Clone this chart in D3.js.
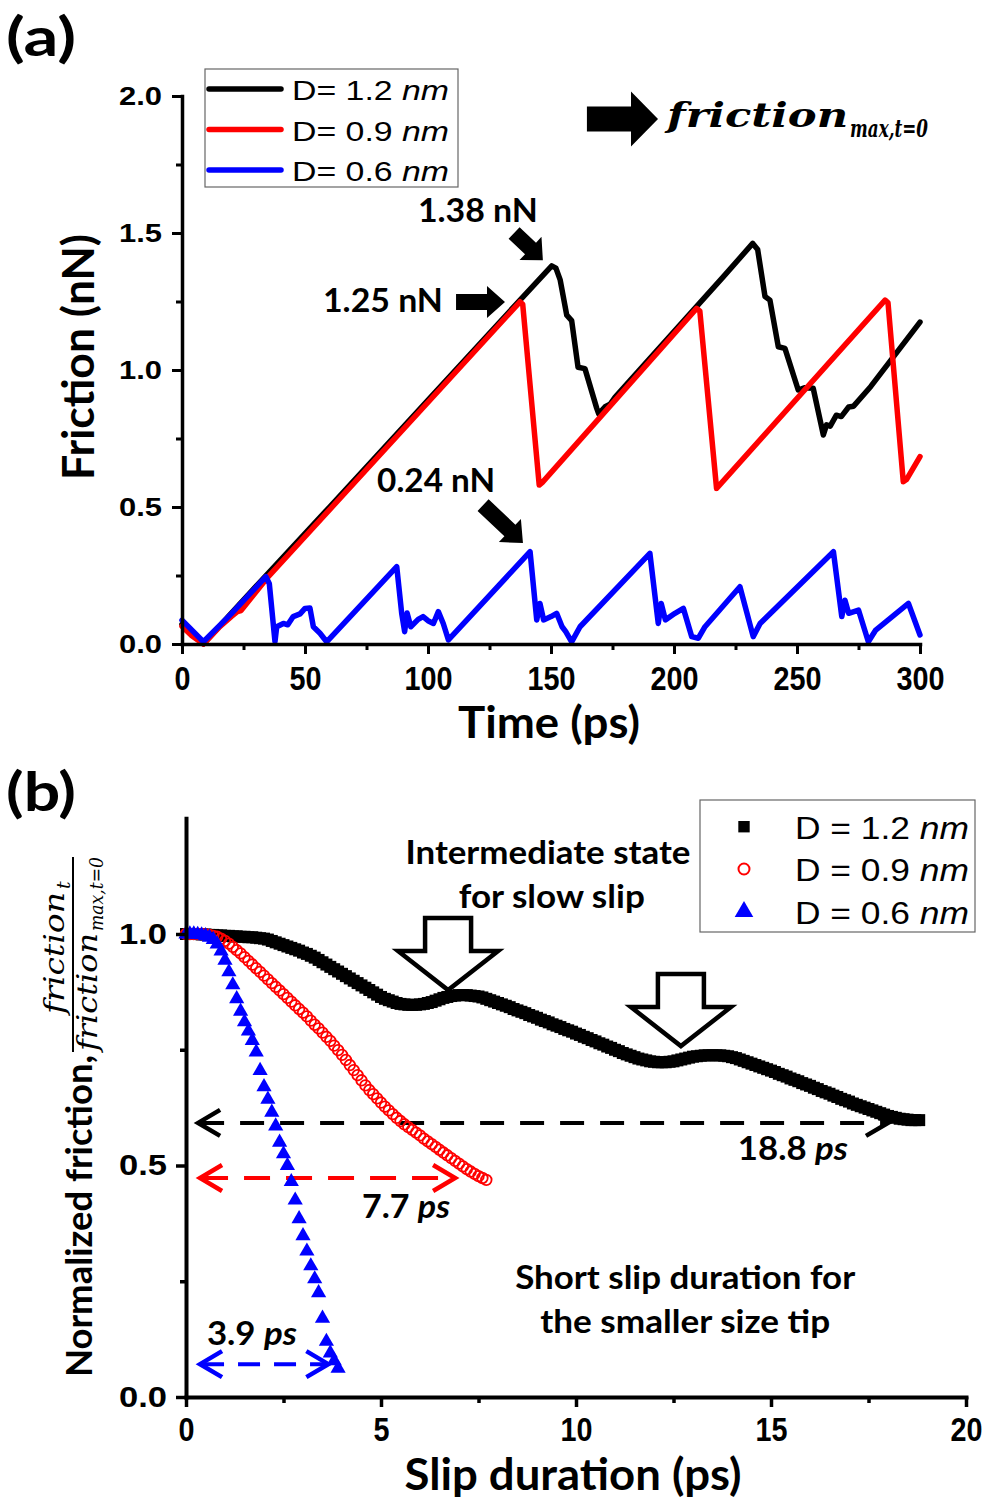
<!DOCTYPE html>
<html>
<head>
<meta charset="utf-8">
<script src="https://cdn.jsdelivr.net/npm/d3@7"></script>
<style>
  body { margin: 0; background: #fff; }
  svg { display: block; }
</style>
</head>
<body>
<svg id="chart" width="987" height="1498"></svg>
<script>
// ---------- panel (a): friction vs time ----------
const legendA = ["D= 1.2 ", "D= 0.9 ", "D= 0.6 "];
const colorsA = ["#000000", "#ff0000", "#0000ff"];
const xTicksA = [0, 50, 100, 150, 200, 250, 300];
const yTicksA = [0.0, 0.5, 1.0, 1.5, 2.0];

// [time ps, friction nN]
const friction12 = [[0,0.072],[4,0.035],[8.7,0.0],[20,0.112],[35,0.258],[60,0.5],[100,0.89],[137.4,1.255],
  [150.3,1.38],[152,1.372],[153.7,1.33],[156.4,1.2],[158.4,1.18],[161,1.01],[163.8,1.005],[168.6,0.86],
  [169.4,0.84],[172,0.866],[174,0.875],[176,0.9],[180,0.94],[200,1.14],[220,1.34],[232,1.462],[234,1.44],
  [237,1.268],[239,1.255],[242.4,1.085],[245.1,1.079],[250.5,0.927],[253,0.935],[256.6,0.933],[260.7,0.763],
  [262,0.8],[263.5,0.795],[266,0.835],[268,0.83],[271,0.865],[273,0.868],[280,0.94],[300,1.175]];
const friction09 = [[0,0.065],[4,0.03],[8.7,0.0],[15,0.06],[20,0.1],[22.5,0.118],[24,0.122],[35,0.245],
  [137.4,1.249],[138.5,1.24],[145.2,0.58],[146.5,0.59],[209.2,1.225],[210.5,1.215],[217.3,0.568],[218.5,0.58],
  [285.8,1.255],[287,1.245],[293.2,0.592],[294.5,0.6],[300,0.684]];
const friction06 = [[0,0.087],[8.7,0.008],[20,0.11],[34.1,0.246],[35.5,0.22],[37.8,0.008],[38.5,0.063],
  [41.2,0.075],[43,0.07],[45.2,0.1],[48,0.11],[50,0.13],[52,0.131],[53.4,0.063],[56.1,0.039],[58.8,0.008],
  [87.3,0.282],[89.3,0.112],[90.5,0.045],[91.5,0.113],[93,0.063],[96,0.09],[98,0.1],[100,0.085],[102.2,0.075],
  [104.2,0.118],[106.2,0.075],[108.3,0.015],[141.5,0.337],[144.2,0.088],[145.5,0.148],[147,0.088],[150,0.1],
  [152.3,0.112],[154.5,0.063],[156,0.045],[158.4,0.008],[161.8,0.063],[190.2,0.331],[193.6,0.075],
  [194.8,0.148],[196.5,0.088],[200.4,0.112],[203.8,0.13],[207.2,0.027],[209.9,0.021],[212.6,0.063],
  [226.8,0.209],[232.2,0.027],[235,0.075],[264.8,0.337],[268.2,0.1],[269.5,0.16],[271,0.112],[275,0.124],
  [279,0.008],[282,0.051],[295.3,0.148],[300,0.033]];
const seriesA = [friction12, friction09, friction06];

// ---------- panel (b): normalized friction vs slip duration ----------
const legendB = ["D = 1.2 ", "D = 0.9 ", "D = 0.6 "];
const colorsB = ["#000000", "#ff0000", "#0000ff"];
const xTicksB = [0, 5, 10, 15, 20];
const yTicksB = [0.0, 0.5, 1.0];
const slipStep = 0.1; // ps between markers

const norm12 = [1.000,1.000,1.000,1.000,0.999,0.999,0.998,0.998,0.997,0.997,
  0.996,0.996,0.995,0.995,0.994,0.994,0.993,0.993,0.992,0.991,
  0.990,0.988,0.985,0.982,0.979,0.976,0.973,0.970,0.967,0.964,
  0.960,0.957,0.953,0.949,0.944,0.939,0.934,0.929,0.924,0.919,
  0.914,0.909,0.904,0.899,0.894,0.889,0.884,0.879,0.874,0.869,
  0.864,0.860,0.857,0.854,0.851,0.849,0.848,0.847,0.847,0.847,
  0.848,0.849,0.851,0.853,0.856,0.859,0.862,0.864,0.866,0.867,
  0.868,0.868,0.868,0.867,0.866,0.865,0.863,0.860,0.857,0.854,
  0.851,0.848,0.845,0.842,0.838,0.835,0.832,0.829,0.825,0.822,
  0.819,0.815,0.812,0.809,0.805,0.802,0.799,0.795,0.792,0.789,
  0.785,0.782,0.778,0.775,0.771,0.768,0.764,0.761,0.757,0.754,
  0.750,0.747,0.743,0.740,0.737,0.734,0.731,0.729,0.727,0.725,
  0.724,0.723,0.723,0.723,0.724,0.725,0.727,0.729,0.731,0.733,
  0.735,0.736,0.737,0.738,0.738,0.738,0.738,0.738,0.737,0.736,
  0.734,0.732,0.729,0.726,0.723,0.720,0.717,0.714,0.711,0.708,
  0.705,0.702,0.698,0.695,0.692,0.688,0.685,0.682,0.678,0.675,
  0.672,0.668,0.665,0.661,0.658,0.655,0.651,0.648,0.644,0.641,
  0.638,0.634,0.631,0.628,0.625,0.622,0.619,0.616,0.613,0.610,
  0.607,0.605,0.603,0.601,0.600,0.599,0.598,0.598,0.598];
const norm09 = [1.000,1.000,1.000,1.000,1.000,0.999,0.998,0.996,0.994,0.990,
  0.985,0.979,0.972,0.965,0.958,0.950,0.942,0.934,0.926,0.918,
  0.910,0.902,0.894,0.886,0.878,0.870,0.862,0.854,0.846,0.838,
  0.830,0.822,0.813,0.804,0.796,0.787,0.778,0.769,0.759,0.749,
  0.739,0.728,0.717,0.706,0.695,0.684,0.673,0.663,0.654,0.645,
  0.636,0.627,0.619,0.611,0.603,0.596,0.589,0.583,0.577,0.571,
  0.565,0.558,0.552,0.546,0.540,0.534,0.528,0.522,0.516,0.510,
  0.504,0.498,0.492,0.487,0.482,0.477,0.473,0.469];
const norm06 = [1.000,1.000,1.000,0.999,0.998,0.996,0.993,0.988,0.978,0.963,
  0.943,0.918,0.890,0.860,0.833,0.810,0.790,0.770,0.745,0.705,
  0.670,0.643,0.615,0.585,0.550,0.525,0.500,0.465,0.425,0.385,
  0.348,0.315,0.283,0.255,0.225,0.170,0.120,0.095,0.078,0.062];
const seriesB = [norm12, norm09, norm06];

// ---------- drawing ----------
const svg = d3.select("#chart");
const boldSans = "'Liberation Sans', Arial, sans-serif";
const titleFont = "Lato, 'Open Sans', sans-serif";
const mathFont = "'DejaVu Serif', serif";

function txt(g, s, x, y, size, opts) {
  opts = opts || {};
  const t = g.append("text").attr("x", x).attr("y", y)
    .attr("font-family", opts.family || titleFont)
    .attr("font-weight", opts.weight || 700)
    .attr("font-size", size)
    .attr("text-anchor", opts.anchor || "start")
    .attr("fill", "#000");
  if (opts.style) t.attr("font-style", opts.style);
  t.text(s);
  if (opts.italic) t.append("tspan").attr("font-style", "italic").text(opts.italic);
  if (opts.len) t.attr("textLength", opts.len).attr("lengthAdjust", "spacingAndGlyphs");
  return t;
}

function blockArrow(g, x1, y1, x2, y2, sw, hw, hl) {
  const dx = x2 - x1, dy = y2 - y1, L = Math.hypot(dx, dy);
  const ux = dx / L, uy = dy / L, nx = -uy, ny = ux;
  const bx = x2 - ux * hl, by = y2 - uy * hl;
  const pts = [[x1 + nx * sw, y1 + ny * sw], [bx + nx * sw, by + ny * sw], [bx + nx * hw, by + ny * hw],
    [x2, y2], [bx - nx * hw, by - ny * hw], [bx - nx * sw, by - ny * sw], [x1 - nx * sw, y1 - ny * sw]];
  g.append("polygon").attr("points", pts.map(p => p.join(",")).join(" ")).attr("fill", "#000");
}

function styleAxis(g, w) {
  g.select(".domain").attr("stroke-width", w).attr("stroke-linecap", "square");
  g.selectAll(".tick line").attr("stroke-width", w - 0.5);
}

// ===== panel (a) =====
const xA = d3.scaleLinear().domain([0, 300]).range([182, 920]);
const yA = d3.scaleLinear().domain([0, 2]).range([644, 96]);
const gA = svg.append("g");

txt(gA, "(a)", 6, 56, 54, { len: 70 });

const lineA = d3.line().x(d => xA(d[0])).y(d => yA(d[1]));
seriesA.forEach((s, i) => {
  gA.append("path").datum(s).attr("d", lineA).attr("fill", "none")
    .attr("stroke", colorsA[i]).attr("stroke-width", 5.5)
    .attr("stroke-linejoin", "round").attr("stroke-linecap", "round");
});

// axes
const axXA = gA.append("g").attr("transform", `translate(0,${yA(0)})`)
  .call(d3.axisBottom(xA).tickValues(xTicksA).tickSize(10).tickSizeOuter(0).tickPadding(13).tickFormat(d3.format("d")));
gA.append("g").attr("transform", `translate(0,${yA(0)})`)
  .call(d3.axisBottom(xA).tickValues(d3.range(25, 300, 50)).tickSize(6).tickSizeOuter(0).tickFormat(""))
  .call(g => { g.select(".domain").remove(); g.selectAll("line").attr("stroke-width", 3); });
axXA.call(g => styleAxis(g, 3.5));
axXA.selectAll("text").attr("font-family", boldSans).attr("font-weight", 700).attr("font-size", 33).attr("fill", "#000")
  .each(function (d) { d3.select(this).attr("textLength", String(d).length * 16).attr("lengthAdjust", "spacingAndGlyphs"); });

const axYA = gA.append("g").attr("transform", `translate(${xA(0)},0)`)
  .call(d3.axisLeft(yA).tickValues(yTicksA).tickSize(10).tickSizeOuter(0).tickPadding(10).tickFormat(d3.format(".1f")));
gA.append("g").attr("transform", `translate(${xA(0)},0)`)
  .call(d3.axisLeft(yA).tickValues([0.25, 0.75, 1.25, 1.75]).tickSize(6).tickSizeOuter(0).tickFormat(""))
  .call(g => { g.select(".domain").remove(); g.selectAll("line").attr("stroke-width", 3); });
axYA.call(g => styleAxis(g, 3.5));
axYA.selectAll("text").attr("font-family", boldSans).attr("font-weight", 700).attr("font-size", 26).attr("fill", "#000")
  .attr("textLength", 43).attr("lengthAdjust", "spacingAndGlyphs");

txt(gA, "Time (ps)", 549, 738, 44, { anchor: "middle", len: 182 });
gA.append("g").attr("transform", "translate(94,357) rotate(-90)")
  .call(g => txt(g, "Friction (nN)", 0, 0, 44, { anchor: "middle", len: 246 }));

// legend (a)
gA.append("rect").attr("x", 205).attr("y", 69).attr("width", 253).attr("height", 118)
  .attr("fill", "#fff").attr("stroke", "#666").attr("stroke-width", 1.2);
legendA.forEach((name, i) => {
  const ly = 89 + i * 40.5;
  gA.append("line").attr("x1", 209).attr("x2", 281).attr("y1", ly).attr("y2", ly)
    .attr("stroke", colorsA[i]).attr("stroke-width", 5.5).attr("stroke-linecap", "round");
  txt(gA, name, 292, ly + 11, 27, { family: boldSans, weight: 400, italic: "nm", len: 157 });
});

// friction max label and arrows
blockArrow(gA, xA(164.6), yA(1.916), xA(193.5), yA(1.916), 12.5, 27.5, 27);
txt(gA, "friction", xA(197.2), yA(1.887), 34, { family: mathFont, style: "italic", len: 181 });
txt(gA, "max,t=0", 850, yA(1.887) + 10, 24, { family: mathFont, style: "italic", len: 78 });

txt(gA, "1.38 nN", xA(120.3), yA(1.54), 32, { anchor: "middle", len: 120 });
blockArrow(gA, xA(135), yA(1.5), xA(146.7), yA(1.401), 8, 16, 17);
txt(gA, "1.25 nN", xA(81.7), yA(1.21), 32, { anchor: "middle", len: 120 });
blockArrow(gA, xA(111.4), yA(1.248), xA(131.3), yA(1.248), 8, 16, 18);
txt(gA, "0.24 nN", xA(103.3), yA(0.555), 32, { anchor: "middle", len: 118 });
blockArrow(gA, xA(122.4), yA(0.507), xA(138.6), yA(0.369), 8, 16, 18);

// ===== panel (b) =====
const xB = d3.scaleLinear().domain([0, 20]).range([186, 966]);
const yB = d3.scaleLinear().domain([0, 1.25]).range([1397, 818.25]);
const gB = svg.append("g");

txt(gB, "(b)", 6, 811, 54, { len: 70 });

// dashed double arrows
function dashArrow(g, t1, t2, v, color, dash) {
  const y = yB(v), x1 = xB(t1), x2 = xB(t2);
  g.append("line").attr("x1", x1 + 2).attr("x2", x2 - 2).attr("y1", y).attr("y2", y)
    .attr("stroke", color).attr("stroke-width", 4).attr("stroke-dasharray", dash);
  [[x1, 1], [x2, -1]].forEach(([x, s]) => {
    g.append("path").attr("d", `M${x + s * 22},${y - 13} L${x},${y} L${x + s * 22},${y + 13}`)
      .attr("fill", "none").attr("stroke", color).attr("stroke-width", 4.5).attr("stroke-linejoin", "miter");
  });
}
dashArrow(gB, 0.31, 18.0, 0.592, "#000", "24 16");
dashArrow(gB, 0.36, 6.9, 0.473, "#ff0000", "26 16");
dashArrow(gB, 0.36, 3.65, 0.071, "#0000ff", "22 14");

// open arrows
function openArrow(g, t, v) {
  const x = xB(t), y = yB(v);
  const pts = [[x - 23, y - 72], [x + 23, y - 72], [x + 23, y - 39], [x + 50, y - 39], [x, y],
    [x - 50, y - 39], [x - 23, y - 39]];
  g.append("polygon").attr("points", pts.map(p => p.join(",")).join(" "))
    .attr("fill", "#fff").attr("stroke", "#000").attr("stroke-width", 4.5).attr("stroke-linejoin", "miter");
}
openArrow(gB, 6.72, 0.879);
openArrow(gB, 12.69, 0.758);

// markers
const sym = [d3.symbolSquare, d3.symbolCircle, d3.symbolTriangle];
const symSize = [144, 88, 100];
seriesB.forEach((s, i) => {
  gB.append("g").selectAll("path").data(s).enter().append("path")
    .attr("transform", (d, j) => `translate(${xB(j * slipStep)},${yB(d)})`)
    .attr("d", d3.symbol().type(sym[i]).size(symSize[i]))
    .attr("fill", i === 1 ? "none" : colorsB[i])
    .attr("stroke", i === 1 ? colorsB[i] : "none")
    .attr("stroke-width", 1.8);
});

// axes (b)
const axXB = gB.append("g").attr("transform", `translate(0,${yB(0)})`)
  .call(d3.axisBottom(xB).tickValues(xTicksB).tickSize(10).tickSizeOuter(0).tickPadding(11).tickFormat(d3.format("d")));
gB.append("g").attr("transform", `translate(0,${yB(0)})`)
  .call(d3.axisBottom(xB).tickValues([2.5, 7.5, 12.5, 17.5]).tickSize(6).tickSizeOuter(0).tickFormat(""))
  .call(g => { g.select(".domain").remove(); g.selectAll("line").attr("stroke-width", 3.5); });
axXB.call(g => styleAxis(g, 4));
axXB.selectAll("text").attr("font-family", boldSans).attr("font-weight", 700).attr("font-size", 33).attr("fill", "#000")
  .each(function (d) { d3.select(this).attr("textLength", String(d).length * 16).attr("lengthAdjust", "spacingAndGlyphs"); });

const axYB = gB.append("g").attr("transform", `translate(${xB(0)},0)`)
  .call(d3.axisLeft(yB).tickValues(yTicksB).tickSize(10).tickSizeOuter(0).tickPadding(9).tickFormat(d3.format(".1f")));
gB.append("g").attr("transform", `translate(${xB(0)},0)`)
  .call(d3.axisLeft(yB).tickValues([0.25, 0.75]).tickSize(6).tickSizeOuter(0).tickFormat(""))
  .call(g => { g.select(".domain").remove(); g.selectAll("line").attr("stroke-width", 3.5); });
axYB.call(g => styleAxis(g, 4));
axYB.selectAll("text").attr("font-family", boldSans).attr("font-weight", 700).attr("font-size", 29).attr("fill", "#000")
  .attr("textLength", 48).attr("lengthAdjust", "spacingAndGlyphs");

txt(gB, "Slip duration (ps)", 573, 1490, 43, { anchor: "middle", len: 337 });

// y label with fraction
const yl = gB.append("g").attr("transform", "translate(92,1377) rotate(-90)");
txt(yl, "Normalized friction,", 0, 0, 36, { len: 322 });
yl.append("line").attr("x1", 325).attr("x2", 520).attr("y1", -19).attr("y2", -19).attr("stroke", "#000").attr("stroke-width", 2);
txt(yl, "friction", 363, -28, 28, { family: mathFont, weight: 400, style: "italic", len: 122 });
txt(yl, "t", 488, -22, 19, { family: mathFont, weight: 400, style: "italic" });
txt(yl, "friction", 326, 5, 28, { family: mathFont, weight: 400, style: "italic", len: 118 });
txt(yl, "max,t=0", 446, 11, 19, { family: mathFont, weight: 400, style: "italic", len: 74 });

// legend (b)
gB.append("rect").attr("x", 700).attr("y", 800).attr("width", 275).attr("height", 132)
  .attr("fill", "#fff").attr("stroke", "#666").attr("stroke-width", 1.2);
const legY = [826.7, 869, 911.7];
legendB.forEach((name, i) => {
  gB.append("path").attr("transform", `translate(744,${legY[i]})`)
    .attr("d", d3.symbol().type(sym[i]).size([130, 95, 150][i]))
    .attr("fill", i === 1 ? "none" : colorsB[i])
    .attr("stroke", i === 1 ? colorsB[i] : "none").attr("stroke-width", 2);
  txt(gB, name, 795, legY[i] + 12, 31, { family: boldSans, weight: 400, italic: "nm", len: 174 });
});

// annotations (b)
txt(gB, "Intermediate state", xB(9.28), yB(1.151), 32, { anchor: "middle", len: 285 });
txt(gB, "for slow slip", xB(9.38), yB(1.056), 32, { anchor: "middle", len: 186 });
txt(gB, "Short slip duration for", xB(12.8), yB(0.233), 32, { anchor: "middle", len: 340 });
txt(gB, "the smaller size tip", xB(12.8), yB(0.138), 32, { anchor: "middle", len: 290 });
txt(gB, "18.8 ", xB(15.56) - 55, yB(0.512), 32, { italic: "ps", len: 110 });
txt(gB, "7.7 ", xB(5.64) - 44, yB(0.387), 32, { italic: "ps", len: 88 });
txt(gB, "3.9 ", xB(1.69) - 45, yB(0.112), 32, { italic: "ps", len: 90 });
</script>
</body>
</html>
